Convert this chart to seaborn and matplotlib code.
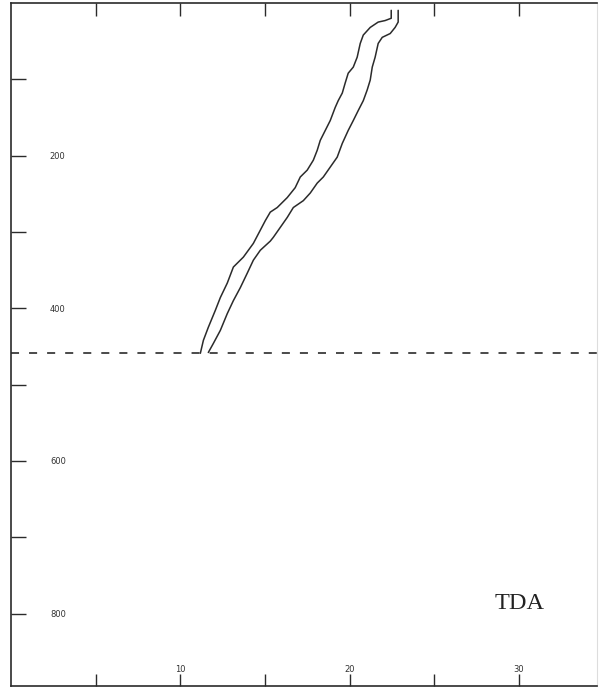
import matplotlib
matplotlib.use("Agg")
import matplotlib.pyplot as plt
import seaborn as sns
import pandas as pd
from matplotlib.ticker import FixedLocator

# ---- data ----
left_x = [22.45, 22.45, 22.09, 21.68, 21.21, 20.80, 20.62, 20.44, 20.21, 19.91,
          19.73, 19.56, 19.32, 19.14, 18.85, 18.26, 18.08, 17.85, 17.49, 17.08,
          16.78, 16.31, 15.72, 15.31, 15.02, 14.31, 13.72, 13.13, 12.77, 12.36,
          12.06, 11.65, 11.36, 11.18]
left_depth = [9.6, 20, 23, 25, 32, 42, 53, 71, 84, 92,
              105, 118, 128, 137, 154, 180, 193, 206, 219, 228,
              242, 255, 268, 274, 285, 315, 333, 346, 367, 386,
              403, 425, 442, 459]
right_x = [22.86, 22.86, 22.68, 22.39, 21.92, 21.68, 21.50, 21.33, 21.21, 21.03,
           20.80, 20.50, 20.21, 19.91, 19.56, 19.26, 18.85, 18.44, 18.08, 17.67,
           17.26, 16.67, 16.31, 15.90, 15.49, 15.31, 14.72, 14.31, 13.95, 13.54,
           13.13, 12.77, 12.36, 11.95, 11.65]
right_depth = [9.6, 25, 32, 40, 45, 53, 71, 84, 101, 114,
               128, 141, 154, 167, 184, 202, 215, 228, 236, 249,
               259, 268, 281, 294, 307, 312, 324, 337, 354, 373,
               390, 407, 429, 446, 458]
boundary_depth = 459
label_text = "TDA"
x_major = [10, 20, 30]
x_minor = [5, 15, 25]
y_major = [200, 400, 600, 800]
y_minor = [100, 300, 500, 700]

# ---- figure ----
sns.set_theme(style="white")
plt.rcParams["font.family"] = ["DejaVu Sans"]
plt.rcParams["lines.scale_dashes"] = False

W, H = 599, 688
fig = plt.figure(figsize=(W / 100, H / 100), dpi=100)
ax = fig.add_axes([11 / W, 2 / H, (597 - 11) / W, (685 - 2) / H])

df_left = pd.DataFrame({"x": left_x, "depth": left_depth})
df_right = pd.DataFrame({"x": right_x, "depth": right_depth})
line_color = "#2b2b2b"
sns.lineplot(data=df_left, x="x", y="depth", sort=False, estimator=None,
             color=line_color, lw=1.1, ax=ax)
sns.lineplot(data=df_right, x="x", y="depth", sort=False, estimator=None,
             color=line_color, lw=1.1, ax=ax)

ax.axhline(boundary_depth, color=line_color, lw=1.2, linestyle=(0, (5.8, 7.2)))

ax.set_xlim(0, 34.6)
ax.set_ylim(895, 0)
ax.set_xlabel("")
ax.set_ylabel("")

ax.xaxis.set_major_locator(FixedLocator(x_major))
ax.xaxis.set_minor_locator(FixedLocator(x_minor))
ax.yaxis.set_major_locator(FixedLocator(y_major))
ax.yaxis.set_minor_locator(FixedLocator(y_minor))
ax.set_xticklabels([str(v) for v in x_major])
ax.set_yticklabels([str(v) for v in y_major])

ax.tick_params(axis="x", which="both", direction="in", top=True, bottom=True,
               length=9, width=1.0, color=line_color, labelsize=6,
               labelcolor="#333333", pad=-15)
ax.tick_params(axis="y", which="both", direction="in", left=True, right=False,
               length=11, width=1.0, color=line_color, labelsize=6,
               labelcolor="#333333", pad=-28)
for lab in ax.get_yticklabels():
    lab.set_horizontalalignment("left")

for side in ["left", "top", "bottom"]:
    ax.spines[side].set_color(line_color)
    ax.spines[side].set_linewidth(1.2)
ax.spines["right"].set_color("#dddddd")
ax.spines["right"].set_linewidth(0.8)

ax.text(30.0, 787, label_text, fontsize=17.5, family=["Liberation Serif", "DejaVu Serif"],
        color="#222222", ha="center", va="center")

fig.savefig("out.png", dpi=100)
